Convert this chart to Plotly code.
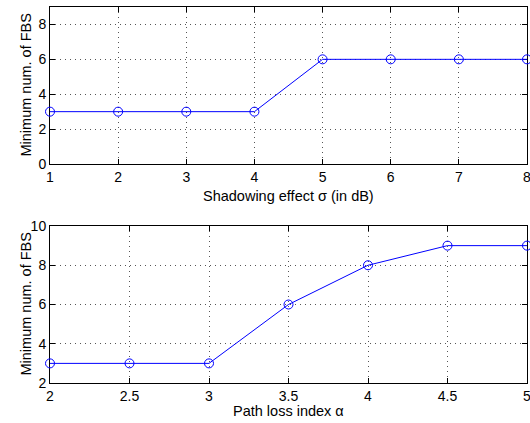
import plotly.graph_objects as go

# Data
sigma_db = [1, 2, 3, 4, 5, 6, 7, 8]
fbs_vs_sigma = [3, 3, 3, 3, 6, 6, 6, 6]
path_loss_alpha = [2, 2.5, 3, 3.5, 4, 4.5, 5]
fbs_vs_alpha = [3, 3, 3, 6, 8, 9, 9]

top_xticks = [1, 2, 3, 4, 5, 6, 7, 8]
top_yticks = [0, 2, 4, 6, 8]
bot_xticks = [2, 2.5, 3, 3.5, 4, 4.5, 5]
bot_xticklabels = ["2", "2.5", "3", "3.5", "4", "4.5", "5"]
bot_yticks = [2, 4, 6, 8, 10]

W, H = 530, 423
FONT = "Liberation Sans, Arial, Helvetica, sans-serif"
TICK_SIZE = 14
TITLE_SIZE = 14.5

fig = go.Figure()
line_style = dict(color="#0000ff", width=1)
marker_style = dict(symbol="circle-open", size=9, color="#0000ff", line=dict(width=1, color="#0000ff"))

fig.add_trace(go.Scatter(x=sigma_db, y=fbs_vs_sigma, mode="lines+markers",
                         line=line_style, marker=marker_style, xaxis="x", yaxis="y",
                         cliponaxis=False, showlegend=False, hoverinfo="skip"))
fig.add_trace(go.Scatter(x=path_loss_alpha, y=fbs_vs_alpha, mode="lines+markers",
                         line=line_style, marker=marker_style, xaxis="x2", yaxis="y2",
                         cliponaxis=False, showlegend=False, hoverinfo="skip"))

x0, x1 = 50 / W, 527 / W
top_dom = [1 - 164 / H, 1 - 7 / H]
bot_dom = [1 - 383 / H, 1 - 226 / H]

common = dict(
    showline=True, linecolor="black", linewidth=1, mirror="allticks",
    ticks="inside", ticklen=5, tickcolor="black", tickwidth=1,
    showgrid=True, gridcolor="#555555", gridwidth=1, griddash="1px,4px",
    zeroline=False, automargin=False, layer="below traces",
    ticklabeloverflow="allow",
    tickfont=dict(family=FONT, size=TICK_SIZE, color="black"),
)

fig.update_layout(
    width=W, height=H,
    margin=dict(l=0, r=0, t=0, b=0),
    paper_bgcolor="white", plot_bgcolor="white",
    font=dict(family=FONT, size=TICK_SIZE, color="black"),
    xaxis=dict(domain=[x0, x1], anchor="y", range=[1, 8], tickvals=top_xticks, **common),
    yaxis=dict(domain=top_dom, anchor="x", range=[0, 9], tickvals=top_yticks, **common),
    xaxis2=dict(domain=[x0, x1], anchor="y2", range=[2, 5], tickvals=bot_xticks,
                ticktext=bot_xticklabels, **common),
    yaxis2=dict(domain=bot_dom, anchor="x2", range=[2, 10], tickvals=bot_yticks, **common),
    annotations=[
        dict(text="Shadowing effect σ (in dB)", xref="paper", yref="paper",
             x=(x0 + x1) / 2, y=1 - 196 / H, showarrow=False, xanchor="center", yanchor="middle",
             font=dict(family=FONT, size=TITLE_SIZE)),
        dict(text="Path loss index α", xref="paper", yref="paper",
             x=(x0 + x1) / 2, y=1 - 411 / H, showarrow=False, xanchor="center", yanchor="middle",
             font=dict(family=FONT, size=TITLE_SIZE)),
        dict(text="Minimum num. of FBS", xref="paper", yref="paper",
             x=25 / W, y=sum(top_dom) / 2, showarrow=False, textangle=-90,
             xanchor="center", yanchor="middle", font=dict(family=FONT, size=TITLE_SIZE)),
        dict(text="Minimum num. of FBS", xref="paper", yref="paper",
             x=25 / W, y=sum(bot_dom) / 2, showarrow=False, textangle=-90,
             xanchor="center", yanchor="middle", font=dict(family=FONT, size=TITLE_SIZE)),
    ],
)

fig.write_html("out.html", config={"displayModeBar": False},
               post_script="document.body.style.margin='0';document.body.style.overflow='hidden';")
